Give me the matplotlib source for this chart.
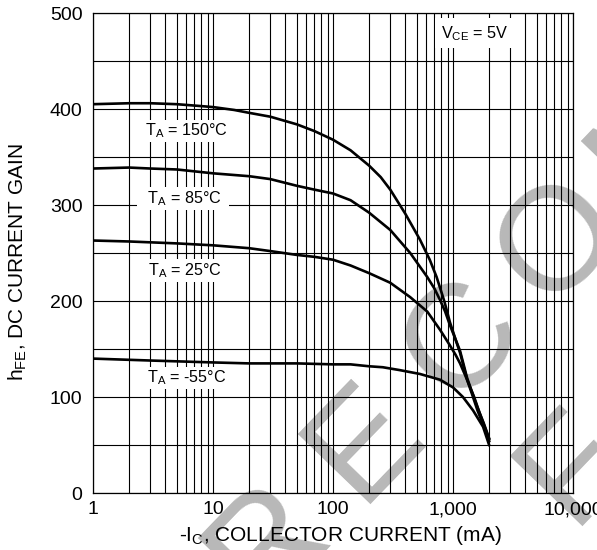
import numpy as np
import matplotlib
matplotlib.use("Agg")
import matplotlib.pyplot as plt
from matplotlib.ticker import FixedLocator, LogLocator, NullFormatter, FixedFormatter

plt.rcParams['font.family'] = ['Liberation Sans', 'DejaVu Sans']
plt.rcParams['mathtext.fontset'] = 'custom'
plt.rcParams['mathtext.rm'] = 'Liberation Sans'
plt.rcParams['mathtext.it'] = 'Liberation Sans'
plt.rcParams['mathtext.default'] = 'regular'

# ---- data ----
ic_150 = [1, 2, 3, 5, 8, 10, 15, 20, 30, 50, 70, 100, 140, 200, 250, 300, 400, 530, 640, 730,
          850, 942, 1050, 1145, 1310, 1450, 1600, 1800, 2000]
hfe_150 = [405, 406, 406, 405, 403, 402, 399, 396, 392, 384, 377, 368, 357, 341, 329, 316, 291, 264, 243, 225,
           199, 178, 160, 148, 120, 104, 89, 73, 57]

ic_85 = [1, 2, 3, 5, 10, 20, 30, 50, 70, 100, 140, 200, 300, 440, 610, 700, 780, 860, 942, 1050,
         1145, 1310, 1450, 1600, 1800, 2000]
hfe_85 = [338, 339, 338, 337, 333, 330, 327, 320, 316, 312, 305, 292, 274, 250, 225, 213, 201, 189, 175, 160,
          146, 118, 102, 86, 70, 54]

ic_25 = [1, 2, 5, 10, 20, 30, 50, 70, 100, 140, 200, 300, 440, 610, 780, 940, 1050, 1145, 1310, 1500,
         1670, 1850, 2000]
hfe_25 = [263, 262, 260, 258, 255, 252, 248, 246, 243, 237, 229, 219, 204, 189, 170, 154, 144, 135, 118, 100,
          83, 68, 56]

ic_m55 = [1, 3, 10, 20, 50, 100, 140, 200, 260, 360, 530, 780, 1000, 1210, 1470, 1780, 2000]
hfe_m55 = [140, 138, 136, 135, 135, 134, 134, 132, 131, 128, 124, 118, 110, 100, 86, 69, 50]

series = [
    (ic_150, hfe_150, r'T$_A$ = 150°C', 6.0, 377),
    (ic_85, hfe_85, r'  T$_A$ = 85°C  ', 5.6, 307),
    (ic_25, hfe_25, r'T$_A$ = 25°C', 5.8, 232),
    (ic_m55, hfe_m55, r'T$_A$ = -55°C', 6.0, 120),
]

x_ticks = [1, 10, 100, 1000, 10000]
x_ticklabels = ['1', '10', '100', '1,000', '10,000']
y_ticks = [0, 100, 200, 300, 400, 500]

W, H = 597, 550
fig = plt.figure(figsize=(W / 100, H / 100), dpi=100)
ax = fig.add_axes([93 / W, 1 - 493 / H, 480 / W, 480 / H])
ax.set_facecolor('none')

# watermark (behind the axes content)
ang = 46.0
d = np.array([np.cos(np.radians(ang)), -np.sin(np.radians(ang))])
c_center = np.array([463.0, 342.0])
step = 140.0
for i, ch in enumerate("RECOMMENDED"):
    p = c_center + (i - 2) * step * d
    fig.text(p[0] / W, 1 - p[1] / H, ch, fontsize=106, color='#b8b8b8',
             rotation=ang, rotation_mode='anchor', ha='center', va='center',
             zorder=-5, family='Liberation Sans')
fig.text(575 / W, 1 - 467 / H, "F", fontsize=106, color='#b8b8b8',
         rotation=ang, rotation_mode='anchor', ha='center', va='center',
         zorder=-5, family='Liberation Sans')

ax.set_xscale('log')
ax.set_xlim(1, 10000)
ax.set_ylim(0, 500)

ax.xaxis.set_major_locator(FixedLocator(x_ticks))
ax.xaxis.set_major_formatter(FixedFormatter(x_ticklabels))
ax.xaxis.set_minor_locator(LogLocator(base=10, subs=np.arange(2, 10), numticks=20))
ax.xaxis.set_minor_formatter(NullFormatter())
ax.yaxis.set_major_locator(FixedLocator(y_ticks))
ax.yaxis.set_minor_locator(FixedLocator([50, 150, 250, 350, 450]))

ax.grid(True, which='both', color='black', linewidth=0.8)
ax.tick_params(which='both', length=0)
ax.tick_params(axis='x', pad=6, labelsize=14)
ax.tick_params(axis='y', pad=7.5, labelsize=14)
for s in ax.spines.values():
    s.set_linewidth(0.9)
    s.set_color('black')

for ic, hfe, lab, lx, ly in series:
    ax.plot(ic, hfe, color='black', linewidth=1.9, zorder=3, solid_joinstyle='round')
    ax.text(lx, ly, lab, fontsize=11.6, ha='center', va='center', zorder=4,
            bbox=dict(boxstyle='square,pad=0.12', facecolor='white', edgecolor='none'))

ax.text(1520, 479, r'V$_{CE}$ = 5V', fontsize=11.7, ha='center', va='center', zorder=4,
        bbox=dict(boxstyle='square,pad=0.35', facecolor='white', edgecolor='none'))

ax.set_xlabel(r'-I$_C$, COLLECTOR CURRENT (mA)', fontsize=15)
ax.xaxis.set_label_coords((340 - 93) / 480, (493 - 524) / 480)
ax.set_ylabel(r'h$_{FE}$, DC CURRENT GAIN', fontsize=15)
ax.yaxis.set_label_coords((29 - 93) / 480, (493 - 262) / 480)

fig.savefig('out.png', dpi=100)
